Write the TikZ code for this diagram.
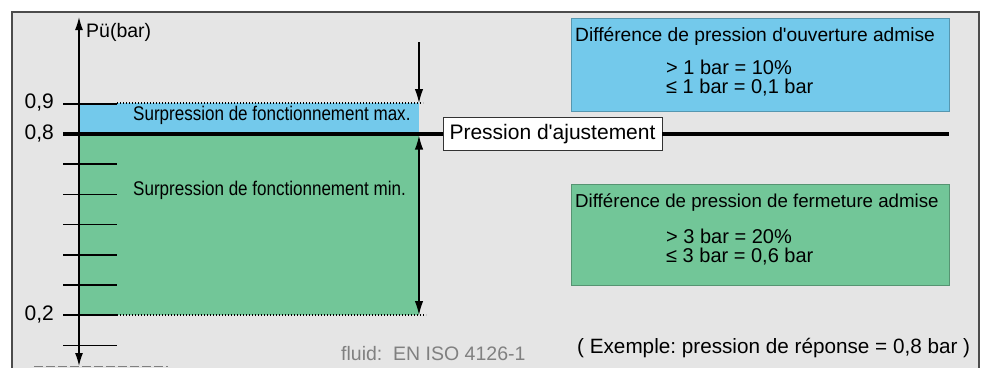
\documentclass[tikz,border=0pt]{standalone}
\usepackage{fontspec}
\setmainfont{Liberation Sans}
\newfontfamily\narrowfont[FakeStretch=0.86]{Liberation Sans}
\usepackage{tikz}
\usetikzlibrary{arrows.meta}
\definecolor{framegray}{RGB}{229,229,229}
\definecolor{skyblue}{RGB}{115,201,235}
\definecolor{mintgreen}{RGB}{114,198,152}
\frenchspacing

\begin{document}
\begin{tikzpicture}[x=1pt, y=-1pt, font=\fontsize{20}{22}\selectfont,
  tick/.style={line width=1.7pt},
  dimarrow/.style={line width=1.3pt, -{Latex[length=14pt,width=8.5pt]}},
  infobox/.style={draw=#1!75!black, fill=#1, line width=0.8pt, anchor=north west,
    minimum width=378pt, inner sep=0pt},
  txt/.style={anchor=west, inner sep=0pt}]

  % --- Zone et cadre ---
  \clip (0,0) rectangle (987,367);
  \draw[fill=framegray, draw=black!70, line width=1.3pt] (12,12) rectangle (979,390);

  % --- Zones de pression ---
  \fill[skyblue] (79,103) rectangle (419,134);
  \fill[mintgreen] (79,134) rectangle (419,315);

  % --- Graduations ---
  \foreach \k in {-1,1,2,...,7}{
    \draw[tick] (63,{134+30.2*\k}) -- (117,{134+30.2*\k});
  }
  \draw[dash pattern=on 1.3pt off 1.7pt, line width=1.2pt] (117,103) -- (423,103);
  \draw[dash pattern=on 1.3pt off 1.7pt, line width=1.2pt] (117,315) -- (426,315);

  % --- Axe ---
  \coordinate (axistop) at (79,17);
  \coordinate (axisbot) at (79,366);
  \draw[line width=1.3pt, {Latex[length=13pt,width=8pt]}-{Latex[length=13pt,width=8pt]}]
    (axisbot) -- (axistop);
  \node[txt, font=\fontsize{19.5}{22}\selectfont] (unit) at (86,32) {Pü(bar)};

  \node[anchor=east, inner sep=0pt, font=\fontsize{21}{24}\selectfont] (v09) at (54,103) {0,9};
  \node[anchor=east, inner sep=0pt, font=\fontsize{21}{24}\selectfont] (v08) at (54,134) {0,8};
  \node[anchor=east, inner sep=0pt, font=\fontsize{21}{24}\selectfont] (v02) at (54,315) {0,2};

  % --- Pression d'ajustement ---
  \node[draw=black!80, fill=white, line width=0.8pt, minimum width=219pt, minimum height=33pt,
    inner sep=0pt, font=\fontsize{21}{24}\selectfont] (setpoint) at (552.5,134)
    {Pression d\textquotesingle ajustement};
  \coordinate (lineleft) at (63,134);
  \coordinate (lineright) at (949,134);
  \draw[line width=3.2pt] (lineleft) -- (setpoint.west);
  \draw[line width=3.2pt] (setpoint.east) -- (lineright);

  % --- Cotes ---
  \coordinate (maxtop) at (419,42);
  \coordinate (maxbot) at (419,103);
  \coordinate (mintop) at (419,135.6);
  \coordinate (minbot) at (419,315);
  \draw[dimarrow] (maxtop) -- (maxbot);
  \draw[dimarrow, {Latex[length=14pt,width=8.5pt]}-{Latex[length=14pt,width=8.5pt]}] (mintop) -- (minbot);

  \node[txt, font=\narrowfont\fontsize{19.8}{22}\selectfont] (maxlabel) at (133,115)
    {Surpression de fonctionnement max.};
  \node[txt, font=\narrowfont\fontsize{19.8}{22}\selectfont] (minlabel) at (133,190)
    {Surpression de fonctionnement min.};

  % --- Encadres ---
  \node[infobox=skyblue, minimum height=93pt] (openbox) at (571,18) {};
  \node[txt, font=\fontsize{19.2}{22}\selectfont] (openhead) at (575,36)
    {Différence de pression d\textquotesingle ouverture admise};
  \node[txt, align=left, font=\fontsize{20}{19}\selectfont] (openvals) at (666,78)
    {> 1 bar = 10\%\\≤ 1 bar = 0,1 bar};

  \node[infobox=mintgreen, minimum height=101pt] (closebox) at (571,184) {};
  \node[txt, font=\fontsize{18.7}{22}\selectfont] (closehead) at (575,203)
    {Différence de pression de fermeture admise};
  \node[txt, align=left, font=\fontsize{20}{19}\selectfont] (closevals) at (666,247)
    {> 3 bar = 20\%\\≤ 3 bar = 0,6 bar};

  % --- Notes ---
  \node[txt, text=black!50, font=\fontsize{19.5}{22}\selectfont] (norm) at (341,354)
    {fluid:\ \ EN ISO 4126-1};
  \node[txt, font=\fontsize{20.7}{22}\selectfont] (example) at (577,348)
    {( Exemple: pression de réponse = 0,8 bar )};

  \draw[black!50, line width=1.6pt, dash pattern=on 9pt off 3pt] (34,366.5) -- (168,366.5);

\end{tikzpicture}
\end{document}
